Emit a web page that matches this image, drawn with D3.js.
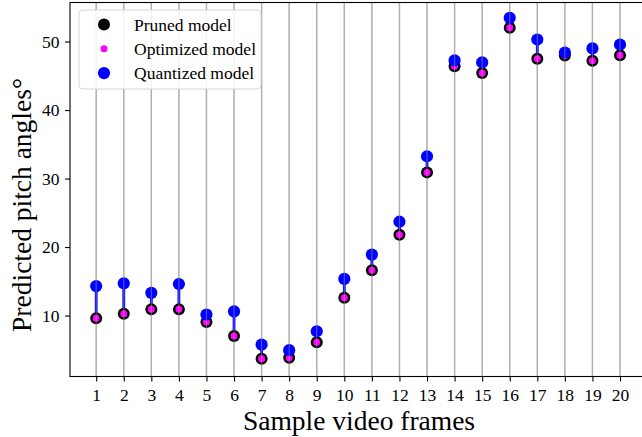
<!DOCTYPE html>
<html><head><meta charset="utf-8">
<script src="https://cdn.jsdelivr.net/npm/d3@7"></script>
<style>body{margin:0;background:#fff}svg{display:block}text{font-family:"Liberation Serif","Times New Roman",serif}</style>
</head><body>
<svg id="c" width="642" height="437"></svg>
<script>
const frames = [1,2,3,4,5,6,7,8,9,10,11,12,13,14,15,16,17,18,19,20];
const pruned = [9.6,10.25,10.9,10.9,9.05,7.0,3.7,3.85,6.1,12.6,16.6,21.8,30.9,46.4,45.4,52.0,47.5,47.95,47.2,48.0];
const optimized = [9.6,10.25,10.9,10.9,9.05,7.0,3.7,3.85,6.1,12.6,16.6,21.8,30.9,46.4,45.4,52.0,47.5,47.95,47.2,48.0];
const quantized = [14.3,14.7,13.3,14.6,10.15,10.6,5.75,4.95,7.7,15.35,18.9,23.7,33.25,47.25,46.95,53.45,50.3,48.4,49.0,49.55];
const yTicks = [10,20,30,40,50];
const legendLabels = ["Pruned model","Optimized model","Quantized model"];

const svg = d3.select("#c");
const L=70, R=646.2, T=2.5, B=376.5;
const x = d3.scaleLinear().domain([0.05,20.95]).range([L,R]);
const y = d3.scaleLinear().domain([1.1,55.7]).range([B,T]);

svg.append("g").selectAll("line").data(frames).join("line")
  .attr("x1",d=>x(d)).attr("x2",d=>x(d)).attr("y1",T).attr("y2",B)
  .attr("stroke","#b0b0b0").attr("stroke-width",1.4);

svg.append("g").selectAll("line").data(frames).join("line")
  .attr("x1",d=>x(d)).attr("x2",d=>x(d))
  .attr("y1",(d,i)=>y(pruned[i])).attr("y2",(d,i)=>y(quantized[i]))
  .attr("stroke","#0000ff").attr("stroke-width",2.8);

svg.append("g").selectAll("circle").data(frames).join("circle")
  .attr("cx",d=>x(d)).attr("cy",(d,i)=>y(pruned[i])).attr("r",6).attr("fill","#000");
svg.append("g").selectAll("circle").data(frames).join("circle")
  .attr("cx",d=>x(d)).attr("cy",(d,i)=>y(optimized[i])).attr("r",3.5).attr("fill","#ff00ff");
svg.append("g").selectAll("circle").data(frames).join("circle")
  .attr("cx",d=>x(d)).attr("cy",(d,i)=>y(quantized[i])).attr("r",6.1).attr("fill","#0000ff");

svg.append("g").selectAll("line").data(frames).join("line")
  .attr("x1",d=>x(d)).attr("x2",d=>x(d)).attr("y1",T).attr("y2",B)
  .attr("stroke","#b0b0b0").attr("stroke-width",1.2).attr("opacity",0.45);

const xa = svg.append("g").attr("transform",`translate(0,${B})`)
  .call(d3.axisBottom(x).tickValues(frames).tickFormat(d3.format("d")).tickSize(5).tickPadding(6.8));
const ya = svg.append("g").attr("transform",`translate(${L},0)`)
  .call(d3.axisLeft(y).tickValues(yTicks).tickSize(5).tickPadding(5.5));
[xa,ya].forEach(a=>{a.select(".domain").remove();a.selectAll("text").attr("font-size",17.5).attr("fill","#000").style("font-family",'"Liberation Serif",serif');a.selectAll("line").attr("stroke","#000").attr("stroke-width",1.1);});

svg.append("rect").attr("x",L).attr("y",T).attr("width",R-L).attr("height",B-T)
  .attr("fill","none").attr("stroke","#000").attr("stroke-width",1.1);

svg.append("text").attr("x",359).attr("y",429.5).attr("text-anchor","middle")
  .attr("font-size",27.5).text("Sample video frames");
svg.append("text").attr("transform","translate(31,205) rotate(-90)").attr("text-anchor","middle")
  .attr("font-size",27.5).text("Predicted pitch angles°");

const lg = svg.append("g");
lg.append("rect").attr("x",79).attr("y",10).attr("width",182).attr("height",79).attr("rx",4)
  .attr("fill","#fff").attr("fill-opacity",0.85).attr("stroke","#d6d6d6").attr("stroke-width",1);
const lc=["#000","#ff00ff","#0000ff"], lr=[6,3.5,6.1];
legendLabels.forEach((t,i)=>{
  const yy=24.5+i*24.3;
  lg.append("circle").attr("cx",104).attr("cy",yy).attr("r",lr[i]).attr("fill",lc[i]);
  lg.append("text").attr("x",134).attr("y",yy+6).attr("font-size",17.5).text(t);
});
</script>
</body></html>
